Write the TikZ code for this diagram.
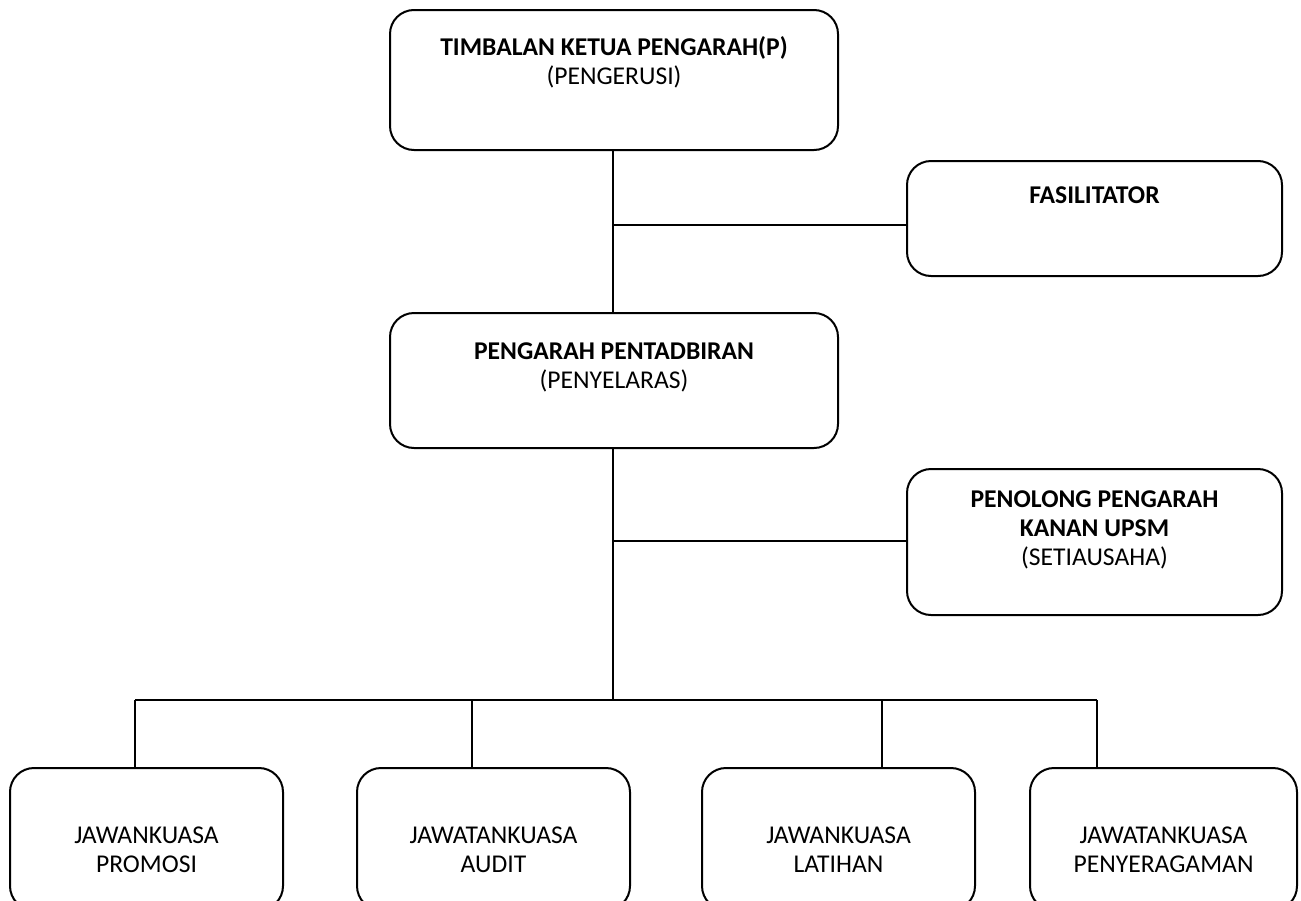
\documentclass[tikz,border=0pt]{standalone}
\usepackage{fontspec}
\setmainfont{Carlito}
\begin{document}
\begin{tikzpicture}[x=0.5pt,y=-0.5pt,
  box/.style={draw=black,line width=1pt,rounded corners=12pt,inner sep=0pt},
  txt/.style={align=center,inner sep=0pt,font=\fontsize{12.8}{14.5}\selectfont},
  conn/.style={draw=black,line width=0.75pt}]
\useasboundingbox (0,0) rectangle (1301,900);
\clip (0,0) rectangle (1301,900);
% boxes
\node[box,minimum width=224pt,minimum height=70pt] (top) at (614,80) {};
\node[box,minimum width=187.5pt,minimum height=57.5pt] (fas) at (1094.5,218.5) {};
\node[box,minimum width=224pt,minimum height=67.5pt] (pen) at (614,380.5) {};
\node[box,minimum width=187.5pt,minimum height=73pt] (sec) at (1094.5,542) {};
\node[box,minimum width=136.5pt,minimum height=71pt] (c1) at (146.5,839) {};
\node[box,minimum width=136.5pt,minimum height=71pt] (c2) at (493.5,839) {};
\node[box,minimum width=136.5pt,minimum height=71pt] (c3) at (838.5,839) {};
\node[box,minimum width=133.5pt,minimum height=71pt] (c4) at (1163.5,839) {};
% texts
\node[txt] (ttop) at (614,62) {\textbf{TIMBALAN KETUA PENGARAH(P)}\\(PENGERUSI)};
\node[txt] (tfas) at (1094.5,195) {\textbf{FASILITATOR}};
\node[txt] (tpen) at (614,367) {\textbf{PENGARAH PENTADBIRAN}\\(PENYELARAS)};
\node[txt] (tsec) at (1094.5,530) {\textbf{PENOLONG PENGARAH}\\\textbf{KANAN UPSM}\\(SETIAUSAHA)};
\node[txt] (tc1) at (146.5,850) {JAWANKUASA\\PROMOSI};
\node[txt] (tc2) at (493.5,850) {JAWATANKUASA\\AUDIT};
\node[txt] (tc3) at (838.5,850) {JAWANKUASA\\LATIHAN};
\node[txt] (tc4) at (1163.5,850) {JAWATANKUASA\\PENYERAGAMAN};
% connectors
\coordinate (j1) at (613,225);
\coordinate (j2) at (613,541);
\coordinate (bus) at (613,700);
\coordinate (b1) at (135,700);
\coordinate (b2) at (472,700);
\coordinate (b3) at (882,700);
\coordinate (b4) at (1097,700);
\draw[conn] (top.south -| j1) -- (pen.north -| j1);
\draw[conn] (j1) -- (j1 -| fas.west);
\draw[conn] (pen.south -| j2) -- (bus);
\draw[conn] (j2) -- (j2 -| sec.west);
\draw[conn] (b1) -- (b4);
\draw[conn] (b1) -- (b1 |- c1.north);
\draw[conn] (b2) -- (b2 |- c2.north);
\draw[conn] (b3) -- (b3 |- c3.north);
\draw[conn] (b4) -- (b4 |- c4.north);
\end{tikzpicture}
\end{document}
